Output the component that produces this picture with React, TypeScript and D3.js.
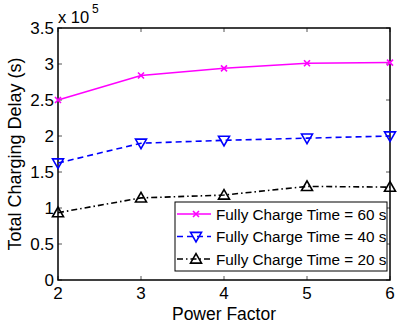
import * as d3 from 'd3';

const powerFactor = [2, 3, 4, 5, 6];
const delay60 = [2.5, 2.84, 2.94, 3.01, 3.02];
const delay40 = [1.625, 1.9, 1.94, 1.97, 2.0];
const delay20 = [0.935, 1.14, 1.18, 1.3, 1.29];
const yTicks = [0, 0.5, 1, 1.5, 2, 2.5, 3, 3.5];
const yTickLabels = ['0', '0.5', '1', '1.5', '2', '2.5', '3', '3.5'];
const seriesNames = ['Fully Charge Time = 60 s', 'Fully Charge Time = 40 s', 'Fully Charge Time = 20 s'];

const W = 397;
const H = 324;
const margin = { top: 28, right: 7, bottom: 44, left: 58 };
const font = '"Liberation Sans", Arial, Helvetica, sans-serif';

export default function App() {
  const x = d3.scaleLinear().domain([2, 6]).range([margin.left, W - margin.right]);
  const y = d3.scaleLinear().domain([0, 3.5]).range([H - margin.bottom, margin.top]);
  const line = d3
    .line<number>()
    .x((_, i) => x(powerFactor[i]))
    .y((d) => y(d));

  const series = [
    { name: seriesNames[0], values: delay60, color: '#ff00ff', dash: '', marker: 'x' },
    { name: seriesNames[1], values: delay40, color: '#0000ff', dash: '6,4', marker: 'down' },
    { name: seriesNames[2], values: delay20, color: '#000000', dash: '6,3,1.5,3', marker: 'up' },
  ];

  const marker = (kind: string, cx: number, cy: number, color: string, key: string) => {
    if (kind === 'x') {
      const s = 3;
      return (
        <path
          key={key}
          d={`M${cx - s},${cy - s}L${cx + s},${cy + s}M${cx - s},${cy + s}L${cx + s},${cy - s}`}
          stroke={color}
          strokeWidth={1.6}
          fill="none"
        />
      );
    }
    const r = 5.5;
    const pts =
      kind === 'down'
        ? `${cx - r},${cy - r * 0.75} ${cx + r},${cy - r * 0.75} ${cx},${cy + r}`
        : `${cx - r},${cy + r * 0.75} ${cx + r},${cy + r * 0.75} ${cx},${cy - r}`;
    return <polygon key={key} points={pts} stroke={color} strokeWidth={1.6} fill="none" />;
  };

  const x0 = margin.left;
  const x1 = W - margin.right;
  const y0 = H - margin.bottom;
  const y1 = margin.top;

  const legend = { x: 175, y: 202, w: 212, h: 69, row: 22.5 };

  return (
    <svg width={W} height={H} style={{ position: 'absolute', left: 0, top: 0, background: '#fff' }} fontFamily={font}>
      {/* ticks, inside on all four sides */}
      {powerFactor.map((v) => (
        <g key={'xt' + v} stroke="#555" strokeWidth={1}>
          <line x1={x(v)} x2={x(v)} y1={y0} y2={y0 - 4} />
          <line x1={x(v)} x2={x(v)} y1={y1} y2={y1 + 4} />
        </g>
      ))}
      {yTicks.map((v) => (
        <g key={'yt' + v} stroke="#555" strokeWidth={1}>
          <line x1={x0} x2={x0 + 4} y1={y(v)} y2={y(v)} />
          <line x1={x1} x2={x1 - 4} y1={y(v)} y2={y(v)} />
        </g>
      ))}
      <rect x={x0} y={y1} width={x1 - x0} height={y0 - y1} fill="none" stroke="#000" strokeWidth={1.5} />

      {series.map((s) => (
        <g key={s.name}>
          <path d={line(s.values) ?? ''} fill="none" stroke={s.color} strokeWidth={1.6} strokeDasharray={s.dash} />
          {s.values.map((v, i) => marker(s.marker, x(powerFactor[i]), y(v), s.color, s.name + i))}
        </g>
      ))}

      {/* tick labels */}
      {powerFactor.map((v) => (
        <text key={'xl' + v} x={x(v)} y={y0 + 19} textAnchor="middle" fontSize={17}>
          {v}
        </text>
      ))}
      {yTicks.map((v, i) => (
        <text key={'yl' + v} x={x0 - 4} y={y(v) + 6} textAnchor="end" fontSize={17}>
          {yTickLabels[i]}
        </text>
      ))}
      <text x={x0} y={y1 - 5} fontSize={16.5}>
        x 10
      </text>
      <text x={x0 + 34} y={y1 - 15} fontSize={12}>
        5
      </text>

      <text x={(x0 + x1) / 2} y={H - 4} textAnchor="middle" fontSize={17.5}>
        Power Factor
      </text>
      <text transform={`translate(21,${(y0 + y1) / 2}) rotate(-90)`} textAnchor="middle" fontSize={18}>
        Total Charging Delay (s)
      </text>

      {/* legend */}
      <rect x={legend.x} y={legend.y} width={legend.w} height={legend.h} fill="#fff" stroke="#000" strokeWidth={1} />
      {series.map((s, i) => {
        const ly = legend.y + 12 + i * legend.row;
        return (
          <g key={'lg' + s.name}>
            <line x1={legend.x + 2} x2={legend.x + 36} y1={ly} y2={ly} stroke={s.color} strokeWidth={1.6} strokeDasharray={s.dash} />
            {marker(s.marker, legend.x + 21, ly, s.color, 'lm' + i)}
            <text x={legend.x + 41} y={ly + 5.5} fontSize={15.3}>
              {s.name}
            </text>
          </g>
        );
      })}
    </svg>
  );
}
